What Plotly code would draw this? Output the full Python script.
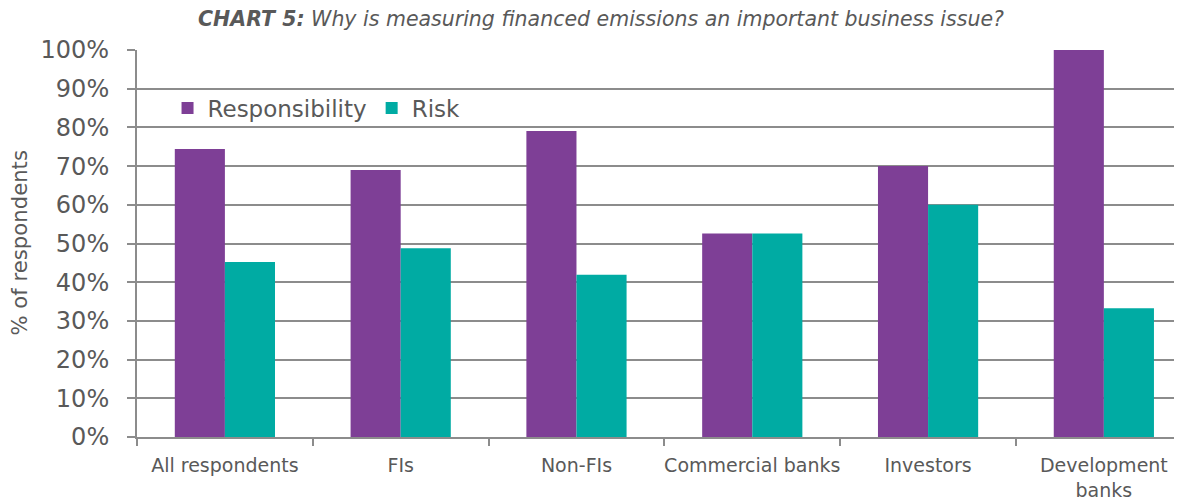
import plotly.graph_objects as go

categories = ["All respondents", "FIs", "Non-FIs", "Commercial banks", "Investors", "Development<br>banks"]
responsibility = [74.4, 69.0, 79.1, 52.6, 70.0, 100.0]
risk = [45.2, 48.8, 41.9, 52.6, 60.0, 33.3]
y_ticks = [0, 10, 20, 30, 40, 50, 60, 70, 80, 90, 100]
y_tick_labels = [f"{v}%" for v in y_ticks]

PURPLE = "#7E3F96"
TEAL = "#00ABA3"
GRID = "#8C8C8C"
TEXT = "#595959"
FONT = "DejaVu Sans"

fig = go.Figure()
fig.add_trace(go.Bar(name="Responsibility", x=categories, y=responsibility,
                     marker=dict(color=PURPLE, line=dict(width=0))))
fig.add_trace(go.Bar(name="Risk", x=categories, y=risk,
                     marker=dict(color=TEAL, line=dict(width=0))))

fig.update_layout(
    width=1182, height=500,
    margin=dict(l=129, r=0, t=42, b=71, autoexpand=False),
    paper_bgcolor="white", plot_bgcolor="white",
    barmode="group", bargap=0.43, bargroupgap=0,
    font=dict(family=FONT, color=TEXT),
    title=dict(text="<b>CHART 5:</b> Why is measuring financed emissions an important business issue?",
               font=dict(family=FONT, size=20.5, color=TEXT, style="italic"),
               x=0.5017, xanchor="center", xref="container",
               y=0.978, yanchor="middle", yref="container"),
    legend=dict(orientation="h", x=0.029, xanchor="left", y=0.85, yanchor="middle",
                font=dict(family=FONT, size=23, color=TEXT), bgcolor="rgba(0,0,0,0)",
                itemwidth=30, tracegroupgap=0),
    showlegend=True,
    annotations=[dict(text="% of respondents", textangle=-90, showarrow=False,
                      xref="paper", yref="paper", x=-118/1053, y=0.5,
                      xanchor="center", yanchor="middle",
                      font=dict(family=FONT, size=21.2, color=TEXT))],
)
fig.update_xaxes(
    range=[-0.5, 5.49], showline=True, linecolor=GRID, linewidth=2,
    ticks="outside", tickson="boundaries", ticklen=7, tickcolor=GRID, tickwidth=2,
    tickangle=0, ticklabelstandoff=10,
    tickfont=dict(family=FONT, size=19, color=TEXT), showgrid=False, automargin=False,
)
fig.update_yaxes(
    range=[0, 100], tickvals=y_ticks, ticktext=y_tick_labels,
    showline=True, linecolor=GRID, linewidth=2,
    ticks="outside", ticklen=8, tickcolor=GRID, tickwidth=2, ticklabelstandoff=13,
    showgrid=True, gridcolor=GRID, gridwidth=2,
    tickfont=dict(family=FONT, size=24, color=TEXT), automargin=False,
)

fig.write_html("out.html")
